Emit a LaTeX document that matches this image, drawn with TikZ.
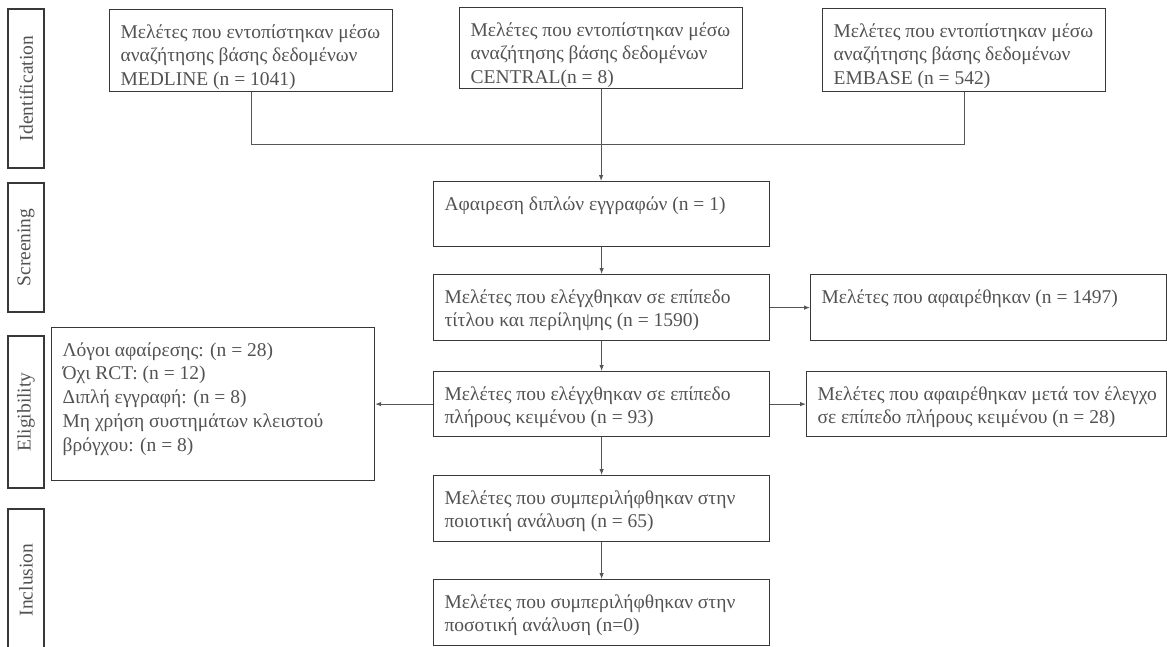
\documentclass[tikz,border=0pt]{standalone}
\usepackage{fontspec}
\setmainfont{Liberation Serif}
\usetikzlibrary{arrows.meta}
\usetikzlibrary{positioning}
\definecolor{lgray}{gray}{0.22}
\definecolor{tgray}{gray}{0.32}
\tikzset{flow/.style = {draw=lgray, line width=1.2pt, anchor=north west, inner xsep=11pt, inner ysep=0pt, text=tgray}}
\tikzset{stage/.style = {draw=lgray, line width=1.2pt, rotate=90, inner sep=0pt, text=tgray}}
\tikzset{link/.style = {draw=lgray!85, line width=0.9pt}}
\tikzset{arr/.style = {link, -{Latex[length=6pt, width=4.5pt]}}}
\newcommand{\flowtext}[3]{\parbox[c][#2pt][t]{\dimexpr#1pt-22pt\relax}{\begin{tabular}[t]{@{}l@{}}\rule{0pt}{28.5pt}#3\end{tabular}}}

\begin{document}
\begin{tikzpicture}[x=1pt, y=-1pt, font=\fontsize{19.5}{23.8}\selectfont]
    \useasboundingbox (0, 0) rectangle (1167, 646);

    % stages
    \node [stage, minimum width=159, minimum height=36] (ident) at (26, 88.5) {Identification};
    \node [stage, minimum width=129, minimum height=36] (scr) at (26, 247.5) {Screening};
    \node [stage, minimum width=152, minimum height=36] (elig) at (26, 412) {Eligibility};
    \node [stage, minimum width=142, minimum height=36] (incl) at (26, 580) {Inclusion};

    % databases
    \node [flow] (medline) at (109, 9) {\flowtext{283}{82}{Μελέτες που εντοπίστηκαν μέσω\\ αναζήτησης βάσης δεδομένων\\ MEDLINE (n = 1041)}};
    \node [flow] (central) at (459, 7) {\flowtext{283}{81}{Μελέτες που εντοπίστηκαν μέσω\\ αναζήτησης βάσης δεδομένων\\ CENTRAL(n = 8)}};
    \node [flow] (embase) at (822, 8) {\flowtext{283}{83}{Μελέτες που εντοπίστηκαν μέσω\\ αναζήτησης βάσης δεδομένων\\ EMBASE (n = 542)}};
    \coordinate (join) at (600, 144);

    % main column
    \node [flow] (dedupe) at (433, 181) {\flowtext{336}{65}{Αφαιρεση διπλών εγγραφών (n = 1)}};
    \node [flow] (title) at (433, 274) {\flowtext{336}{66}{Μελέτες που ελέγχθηκαν σε επίπεδο\\ τίτλου και περίληψης (n = 1590)}};
    \node [flow] (full) at (433, 371) {\flowtext{336}{65}{Μελέτες που ελέγχθηκαν σε επίπεδο\\ πλήρους κειμένου (n = 93)}};
    \node [flow] (qual) at (433, 475) {\flowtext{336}{66}{Μελέτες που συμπεριλήφθηκαν στην\\ ποιοτική ανάλυση (n = 65)}};
    \node [flow] (quant) at (433, 579) {\flowtext{336}{66}{Μελέτες που συμπεριλήφθηκαν στην\\ ποσοτική ανάλυση (n=0)}};

    % excluded
    \node [flow] (excl) at (810, 274) {\flowtext{356}{66}{Μελέτες που αφαιρέθηκαν (n = 1497)}};
    \node [flow] (exclfull) at (806, 371) {\flowtext{360}{65}{Μελέτες που αφαιρέθηκαν μετά τον έλεγχο\\ σε επίπεδο πλήρους κειμένου (n = 28)}};
    \node [flow] (reasons) at (51, 327) {\flowtext{323}{153}{Λόγοι αφαίρεσης: (n = 28)\\ Όχι RCT: (n = 12)\\ Διπλή εγγραφή: (n = 8)\\ Μη χρήση συστημάτων κλειστού\\ βρόγχου: (n = 8)}};

    \draw [link] (medline.south) -- (medline.south |- join) -- (embase.south |- join) -- (embase.south);
    \draw [arr] (central.south) -- (central.south |- dedupe.north);
    \draw [arr] (dedupe) -- (title);
    \draw [arr] (title) -- (excl);
    \draw [arr] (title) -- (full);
    \draw [arr] (full) -- (exclfull);
    \draw [arr] (full) -- (reasons);
    \draw [arr] (full) -- (qual);
    \draw [arr] (qual) -- (quant);
  \end{tikzpicture}
\end{document}
